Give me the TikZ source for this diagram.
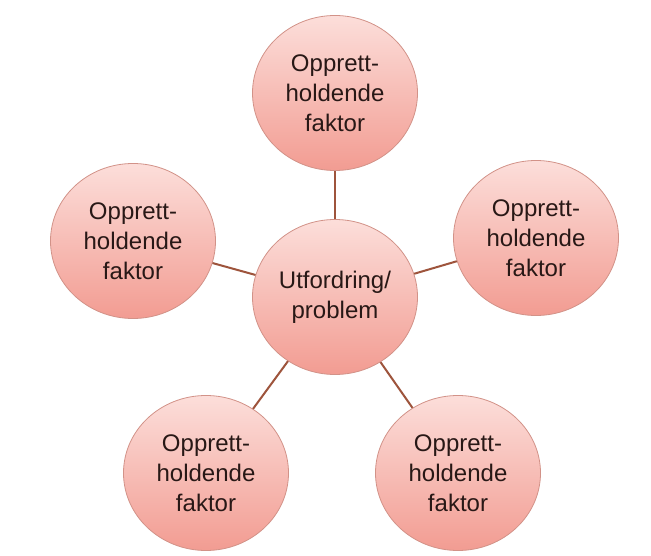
\documentclass[tikz,border=0pt]{standalone}
\usepackage{fontspec}
\setmainfont{Liberation Sans}
\usetikzlibrary{shapes.geometric}
\definecolor{bubbletop}{RGB}{252,222,218}
\definecolor{bubblebottom}{RGB}{242,156,146}
\definecolor{bubbleline}{RGB}{210,146,136}
\definecolor{bubbletext}{RGB}{40,24,22}
\definecolor{linkbrown}{RGB}{158,84,60}
\tikzset{
x=1pt, y=1pt, % one unit is one pixel of the reference
bubble/.style={ellipse, draw=bubbleline, line width=0.8pt, top color=bubbletop, bottom color=bubblebottom, minimum width=165pt, minimum height=155pt, inner sep=0pt, align=center, text=bubbletext, font=\fontsize{24}{30}\selectfont}, % the round factor nodes
link/.style={draw=linkbrown, line width=2pt}, % the spokes from the middle
}
\begin{document}
\begin{tikzpicture}
                \useasboundingbox[fill=white] (0,0) rectangle (651,555);

                \node[bubble] (problem) at (335,258) {Utfordring/\\problem};

                \node[bubble] (factor_t) at (335,462) {Opprett-\\holdende\\faktor};
                \node[bubble] (factor_l) at (133,314) {Opprett-\\holdende\\faktor};
                \node[bubble] (factor_r) at (536,317) {Opprett-\\holdende\\faktor};
                \node[bubble] (factor_bl) at (206,82) {Opprett-\\holdende\\faktor};
                \node[bubble] (factor_br) at (458,82) {Opprett-\\holdende\\faktor};

                \draw
                    (problem) edge[link] (factor_t)
                    (problem) edge[link] (factor_l)
                    (problem) edge[link] (factor_r)
                    (problem) edge[link] (factor_bl)
                    (problem) edge[link] (factor_br);
                \end{tikzpicture}
\end{document}
